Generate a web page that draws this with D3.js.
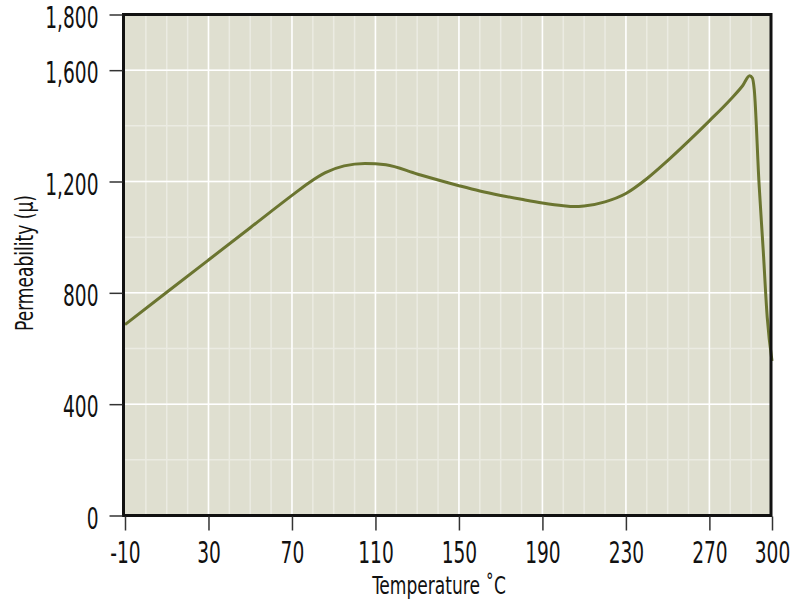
<!DOCTYPE html>
<html>
<head>
<meta charset="utf-8">
<script src="https://cdn.jsdelivr.net/npm/d3@7"></script>
<style>
  html, body { margin: 0; padding: 0; background: #ffffff; }
  svg { display: block; }
  .lbl { font-family: "Liberation Sans Narrow", "DejaVu Sans Condensed", "Roboto", sans-serif; fill: #111; }
</style>
</head>
<body>
<svg id="chart" width="793" height="605"></svg>
<script>
// ---- data ----
const temperature = [-10, 10, 30, 50, 70, 78, 86, 95, 105, 115, 130, 150, 160, 170, 180, 190, 200, 205, 210, 220, 230, 240, 250, 260, 270, 280, 286, 289.3, 290.6, 291.5, 293.8, 295.8, 297.7, 300];
const permeability = [686, 802, 918, 1034, 1150, 1195, 1232, 1256, 1265, 1260, 1227, 1185, 1166, 1150, 1136, 1123, 1113, 1110, 1112, 1127, 1157, 1210, 1275, 1345, 1418, 1494, 1545, 1580, 1572, 1530, 1191, 952, 713, 555];
const xTickValues = [-10, 30, 70, 110, 150, 190, 230, 270, 300];
const yTickValues = [0, 400, 800, 1200, 1600, 1800];
const xMinorValues = d3.range(0, 300, 10);
const yMinorValues = d3.range(200, 1800, 200);
const xTitle = "Temperature  \u02DAC";
const yTitle = "Permeability (\u00B5)";

const svg = d3.select("#chart");
const x = d3.scaleLinear().domain([-10, 300]).range([125, 772]);
const y = d3.scaleLinear().domain([0, 1800]).range([515.5, 14.5]);

const L = 123.5, R = 771, T = 14.5, B = 515.5;
const SX = 0.69;   // horizontal condensation of tick labels
const ST = 0.76;   // horizontal condensation of titles

// background
svg.append("rect").attr("x", L).attr("y", T).attr("width", R - L).attr("height", B - T).attr("fill", "#dfdfd0");

const grid = svg.append("g");
// minor grid
grid.selectAll("line.vmin").data(xMinorValues).join("line")
  .attr("x1", d => x(d)).attr("x2", d => x(d)).attr("y1", T).attr("y2", B)
  .attr("stroke", "#ebebe2").attr("stroke-width", 1.5);
grid.selectAll("line.hmin").data(yMinorValues).join("line")
  .attr("y1", d => y(d)).attr("y2", d => y(d)).attr("x1", L).attr("x2", R)
  .attr("stroke", "#ebebe2").attr("stroke-width", 1.5);
// major grid
grid.selectAll("line.vmaj").data(xTickValues.filter(d => d > -10 && d < 300)).join("line")
  .attr("x1", d => x(d)).attr("x2", d => x(d)).attr("y1", T).attr("y2", B)
  .attr("stroke", "#ffffff").attr("stroke-width", 1.5);
grid.selectAll("line.hmaj").data(yTickValues.filter(d => d > 0 && d < 1800)).join("line")
  .attr("y1", d => y(d)).attr("y2", d => y(d)).attr("x1", L).attr("x2", R)
  .attr("stroke", "#ffffff").attr("stroke-width", 1.5);

// curve
const pts = temperature.map((t, i) => [t, permeability[i]]);
const line = d3.line().x(d => x(d[0])).y(d => y(d[1])).curve(d3.curveMonotoneX);
svg.append("path").datum(pts).attr("d", line)
  .attr("fill", "none").attr("stroke", "#6b7530").attr("stroke-width", 3).attr("stroke-linejoin", "round");

// frame
svg.append("rect").attr("x", L).attr("y", T).attr("width", R - L).attr("height", B - T)
  .attr("fill", "none").attr("stroke", "#111").attr("stroke-width", 3);

// axes
const xAxis = d3.axisBottom(x).tickValues(xTickValues).tickFormat(d => String(d)).tickSize(14).tickSizeOuter(0).tickPadding(0);
const gx = svg.append("g").attr("transform", `translate(0,${B + 1})`).call(xAxis);
gx.select(".domain").remove();
gx.selectAll(".tick line").attr("stroke", "#333").attr("stroke-width", 1.5);
gx.selectAll(".tick text").attr("class", "lbl").attr("font-size", 30)
  .attr("y", 47).attr("dy", 0).attr("x", 0)
  .attr("transform", `scale(${SX},1)`);

const yAxis = d3.axisLeft(y).tickValues(yTickValues).tickFormat(d3.format(",")).tickSize(13).tickSizeOuter(0).tickPadding(0);
const gy = svg.append("g").attr("transform", `translate(${L - 1},0)`).call(yAxis);
gy.select(".domain").remove();
gy.selectAll(".tick line").attr("stroke", "#333").attr("stroke-width", 1.5);
gy.selectAll(".tick text").attr("class", "lbl").attr("font-size", 30)
  .attr("x", -24 / SX).attr("dy", "0.36em").attr("y", 2)
  .attr("transform", `scale(${SX},1)`);

// titles
svg.append("text").attr("class", "lbl").attr("font-size", 25)
  .attr("text-anchor", "middle")
  .attr("transform", `translate(439,594) scale(${ST},1)`)
  .text(xTitle);
svg.append("text").attr("class", "lbl").attr("font-size", 25)
  .attr("text-anchor", "middle")
  .attr("transform", `translate(33,263) rotate(-90) scale(${ST},1)`)
  .text(yTitle);
</script>
</body>
</html>
